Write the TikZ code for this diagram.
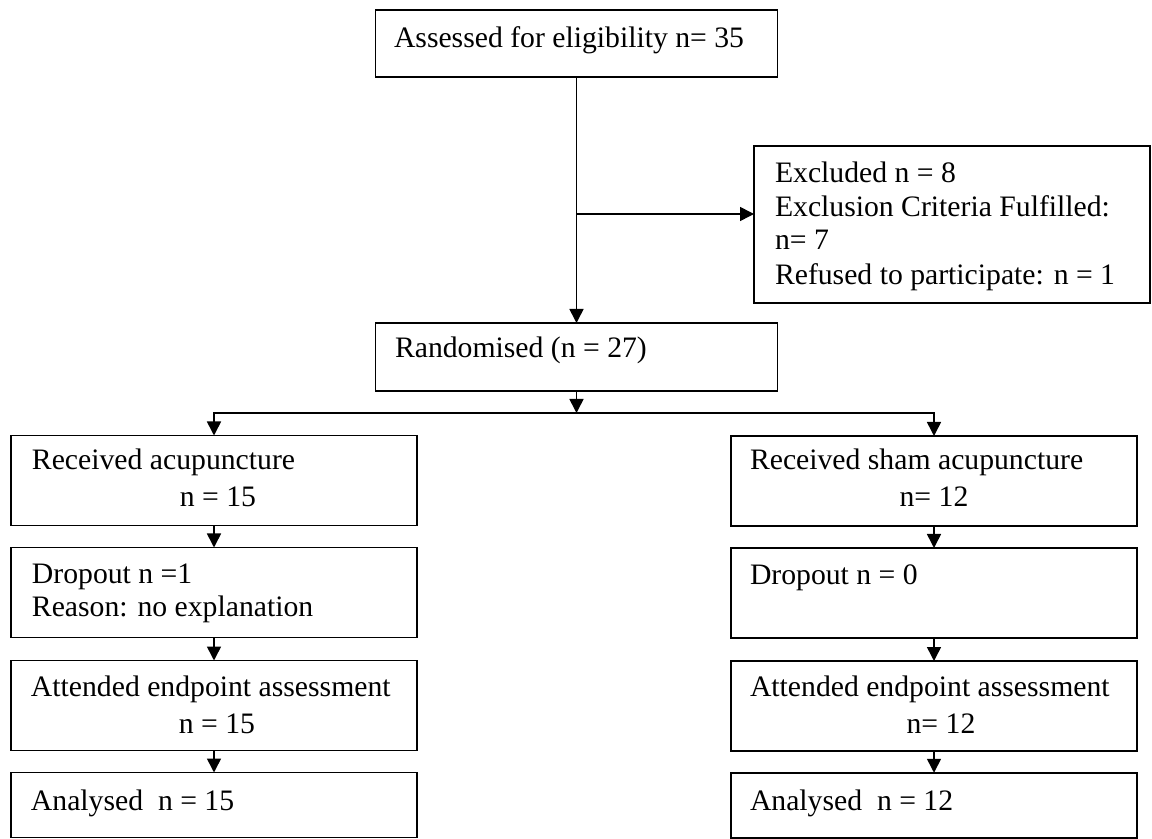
\documentclass[tikz,border=0pt]{standalone}
\usepackage{fontspec}
\setmainfont{Liberation Serif}
\usetikzlibrary{arrows.meta}
\begin{document}
\begin{tikzpicture}[x=0.5pt,y=-0.5pt,
  boxn/.style={draw, line width=0.95pt, inner sep=0pt, outer sep=0pt},
  colbox/.style={boxn, minimum width=203pt, minimum height=45pt},
  lastbox/.style={boxn, minimum width=203pt, minimum height=32.5pt},
  txt/.style={inner sep=0pt, outer sep=0pt, anchor=base west, font=\fontsize{14.85pt}{17pt}\selectfont},
  ctxt/.style={txt, anchor=base},
  arr/.style={line width=0.8pt, -{Triangle[length=7pt,width=7pt]}}]
\useasboundingbox (0,0) rectangle (1152,839);
\clip (0,0) rectangle (1152,839);

% boxes
\node[boxn, minimum width=201pt, minimum height=33.5pt] (top) at (576.5,43.5) {};
\node[boxn, minimum width=198pt, minimum height=78.5pt] (excl) at (952,224.5) {};
\node[boxn, minimum width=201pt, minimum height=34pt] (rand) at (576.5,357) {};
\node[colbox] (recA) at (214,480.5) {};
\node[colbox] (dropA) at (214,592.5) {};
\node[colbox] (attA) at (214,705.5) {};
\node[lastbox] (anaA) at (214,805) {};
\node[colbox] (recB) at (934,481) {};
\node[colbox] (dropB) at (934,593) {};
\node[colbox] (attB) at (934,706) {};
\node[lastbox] (anaB) at (934,805.25) {};

% texts
\node[txt] (t1) at (394,48) {Assessed for eligibility n= 35};
\node[txt] (t2) at (775,183) {Excluded n = 8};
\node[txt] (t3) at (775,217) {Exclusion Criteria Fulfilled:};
\node[txt] (t4) at (775,250) {n= 7};
\node[txt] (t5) at (775,285) {Refused to participate: n = 1};
\node[txt] (t6) at (395,358) {Randomised (n = 27)};

\node[txt] (a1) at (32,470) {Received acupuncture};
\node[ctxt] (a2) at (218,507) {n = 15};
\node[txt] (a3) at (32,583) {Dropout n =1};
\node[txt] (a4) at (32,617) {Reason: no explanation};
\node[txt] (a5) at (31,697) {Attended endpoint assessment};
\node[ctxt] (a6) at (217,733) {n = 15};
\node[txt] (a7) at (31,810) {Analysed~ n = 15};

\node[txt] (b1) at (750,470) {Received sham acupuncture};
\node[ctxt] (b2) at (934,507) {n= 12};
\node[txt] (b3) at (750,585) {Dropout n = 0};
\node[txt] (b4) at (750,697) {Attended endpoint assessment};
\node[ctxt] (b5) at (941,733) {n= 12};
\node[txt] (b6) at (750,810) {Analysed~ n = 12};

% connectors
\coordinate (j1) at (576.5,214);
\coordinate (j2) at (576.5,413);
\draw[arr] (top.south) -- (rand.north);
\draw[arr] (j1) -- (j1 -| excl.west);
\draw[arr] (rand.south) -- (j2);
\draw[arr] (j2) -| (recA.north);
\draw[arr] (j2) -| (recB.north);
\draw[arr] (recA.south) -- (dropA.north);
\draw[arr] (dropA.south) -- (attA.north);
\draw[arr] (attA.south) -- (anaA.north);
\draw[arr] (recB.south) -- (dropB.north);
\draw[arr] (dropB.south) -- (attB.north);
\draw[arr] (attB.south) -- (anaB.north);
\end{tikzpicture}
\end{document}
